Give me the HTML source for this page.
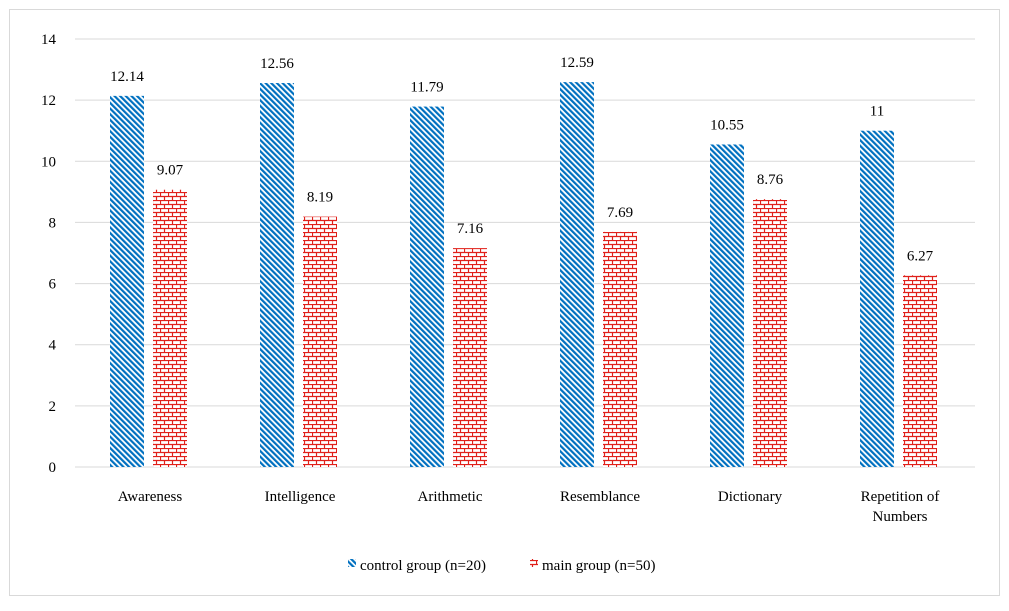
<!DOCTYPE html>
<html><head><meta charset="utf-8"><style>
body{margin:0;background:#fff;font-family:"Liberation Serif",serif;}
</style></head><body>
<svg width="1009" height="606" xmlns="http://www.w3.org/2000/svg">
<defs>
<pattern id="diag" width="4" height="4" patternUnits="userSpaceOnUse" patternTransform="rotate(-45)">
<rect width="4" height="4" fill="#fff"/><rect width="2.2" height="4" fill="#0070c0"/>
</pattern>
<pattern id="brick" width="8" height="8" patternUnits="userSpaceOnUse">
<rect width="8" height="8" fill="#fff"/>
<path d="M0 0.5H8M0 4.5H8M0.5 0V4.5M4.5 4.5V8" stroke="#e0201a" stroke-width="1.2"/>
</pattern>
</defs>
<rect x="9.5" y="9.5" width="990" height="586" fill="#fff" stroke="#d9d9d9"/>
<g id="grid"></g><g id="bars"></g><g id="labels"></g>
<g>
<rect x="348" y="559" width="8" height="8" fill="url(#diag)"/>
<text x="360" y="570" font-size="15">control group (n=20)</text>
<rect x="530" y="559" width="8" height="8" fill="url(#brick)"/>
<text x="542" y="570" font-size="15">main group (n=50)</text>
</g>
</svg>
<script>
const categories=["Awareness","Intelligence","Arithmetic","Resemblance","Dictionary","Repetition of|Numbers"];
const controlValues=[12.14,12.56,11.79,12.59,10.55,11];
const mainValues=[9.07,8.19,7.16,7.69,8.76,6.27];
const yTicks=[0,2,4,6,8,10,12,14];
const NS="http://www.w3.org/2000/svg";
const y0=467,y1=39,yMax=14;
const yS=v=>y0-(y0-y1)*v/yMax;
const xC=i=>150+150*i;
function mk(t,a,p){const e=document.createElementNS(NS,t);for(const k in a)e.setAttribute(k,a[k]);p.appendChild(e);return e;}
const grid=document.getElementById('grid'),bars=document.getElementById('bars'),labels=document.getElementById('labels');
yTicks.forEach(t=>{
 const l=mk('line',{x1:75,x2:975,y1:yS(t),y2:yS(t),stroke:'#d9d9d9'},grid);
 
 
 const tx=mk('text',{x:56,y:yS(t)+5,'font-size':15,'text-anchor':'end'},grid);tx.textContent=t;
 
 
});
categories.forEach((c,i)=>{
 const cx=xC(i);
 const b=mk('rect',{x:cx-40,y:yS(controlValues[i]),width:34,height:y0-yS(controlValues[i]),fill:'url(#diag)'},bars);
 
 
 const r=mk('rect',{x:cx+3,y:yS(mainValues[i]),width:34,height:y0-yS(mainValues[i]),fill:'url(#brick)'},bars);
 
 
 const t1=mk('text',{x:cx-23,y:yS(controlValues[i])-15,'font-size':15,'text-anchor':'middle'},labels);t1.textContent=controlValues[i];
 
 
 const t2=mk('text',{x:cx+20,y:yS(mainValues[i])-15,'font-size':15,'text-anchor':'middle'},labels);t2.textContent=mainValues[i];
 
 
 c.split('|').forEach((ln,j)=>{
  const ct=mk('text',{x:cx,y:501+j*20,'font-size':15,'text-anchor':'middle'},labels);ct.textContent=ln;
  
  
 });
});
</script>
</body></html>
